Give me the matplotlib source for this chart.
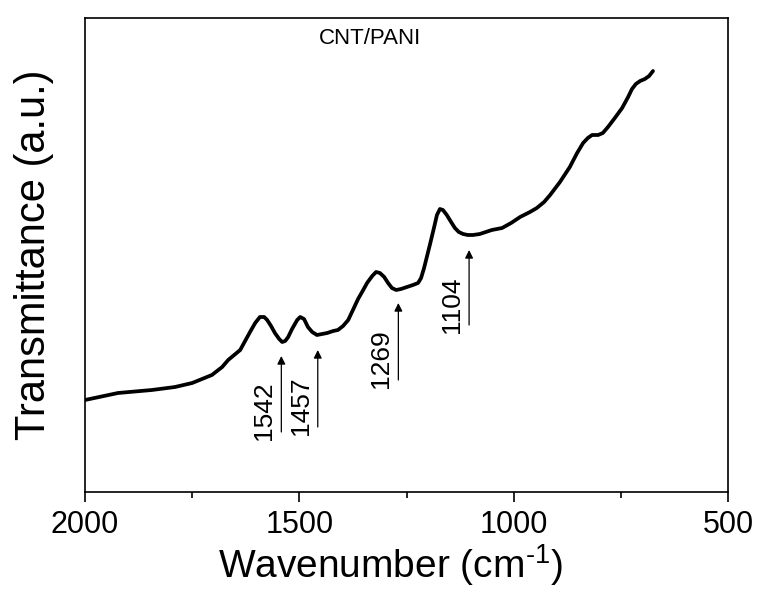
import numpy as np
import matplotlib.pyplot as plt
from matplotlib.ticker import MultipleLocator

plt.rcParams['font.family'] = ['Liberation Sans', 'DejaVu Sans']
plt.rcParams['mathtext.fontset'] = 'custom'
plt.rcParams['mathtext.rm'] = 'Liberation Sans'
plt.rcParams['mathtext.it'] = 'Liberation Sans'

# spectrum (arbitrary transmittance units)
wavenumber = [2000, 1923, 1844, 1790, 1750, 1704, 1680, 1666, 1638, 1615,
              1603, 1592, 1582, 1575, 1566, 1557, 1547, 1540, 1533, 1526,
              1517, 1505, 1498, 1489, 1480, 1470, 1459, 1447, 1435, 1421,
              1410, 1398, 1386, 1375, 1363, 1351, 1342, 1330, 1321, 1312,
              1302, 1293, 1284, 1274, 1263, 1249, 1235, 1223, 1216, 1209,
              1202, 1195, 1186, 1179, 1172, 1165, 1156, 1146, 1137, 1128,
              1118, 1107, 1095, 1079, 1065, 1051, 1027, 1006, 985, 962,
              946, 929, 915, 892, 869, 852, 838, 827, 817, 803,
              792, 780, 764, 747, 733, 724, 715, 705, 694, 684, 675]
transmittance = [92, 99, 102, 105, 109, 117, 125, 132, 142, 160,
                 169, 175, 175, 172, 166, 159, 153, 150, 151, 155,
                 163, 172, 175, 173, 165, 160, 157, 158, 159, 161,
                 162, 166, 172, 182, 193, 202, 209, 216, 220, 219,
                 215, 209, 204, 202, 203, 205, 207, 209, 214, 224,
                 236, 248, 264, 277, 283, 282, 277, 270, 264, 260,
                 258, 257, 257, 258, 260, 262, 264, 269, 275, 280,
                 284, 290, 297, 310, 325, 339, 349, 354, 357, 357,
                 359, 365, 374, 384, 395, 403, 408, 411, 413, 416, 421]

peaks = [1542, 1457, 1269, 1104]
arrow_bottom = [60, 65, 112, 167]
arrow_top = [136, 142, 189, 242]

fig = plt.figure(figsize=(7.58, 5.95), dpi=100)
ax = fig.add_axes([85/758, 1-492/595, 643/758, 474/595])

ax.plot(wavenumber, transmittance, color='black', lw=2.7,
        solid_joinstyle='round', solid_capstyle='round')

for p, b, t in zip(peaks, arrow_bottom, arrow_top):
    ax.annotate('', xy=(p, t), xytext=(p, b),
                arrowprops=dict(arrowstyle='-|>', color='black', lw=0.9,
                                mutation_scale=12, shrinkA=0, shrinkB=0))
    ax.text(p + 40, b - 8, str(p), rotation=90, ha='center', va='bottom',
            fontsize=19)

ax.text(1335, 454, 'CNT/PANI', ha='center', va='center', fontsize=16)

ax.set_xlim(2000, 500)
ax.set_ylim(0, 474)
ax.xaxis.set_major_locator(MultipleLocator(500))
ax.xaxis.set_minor_locator(MultipleLocator(250))
ax.set_yticks([])
ax.tick_params(axis='x', which='major', length=7, width=1.2, labelsize=22, pad=6)
ax.tick_params(axis='x', which='minor', length=4, width=1.2)
for s in ax.spines.values():
    s.set_linewidth(1.2)

ax.set_xlabel('Wavenumber (cm$^{\\text{-}1}$)', fontsize=28)
ax.xaxis.set_label_coords(0.475, -0.105)
ax.set_ylabel('Transmittance (a.u.)', fontsize=30, labelpad=22)

fig.savefig('out.png', dpi=100)
